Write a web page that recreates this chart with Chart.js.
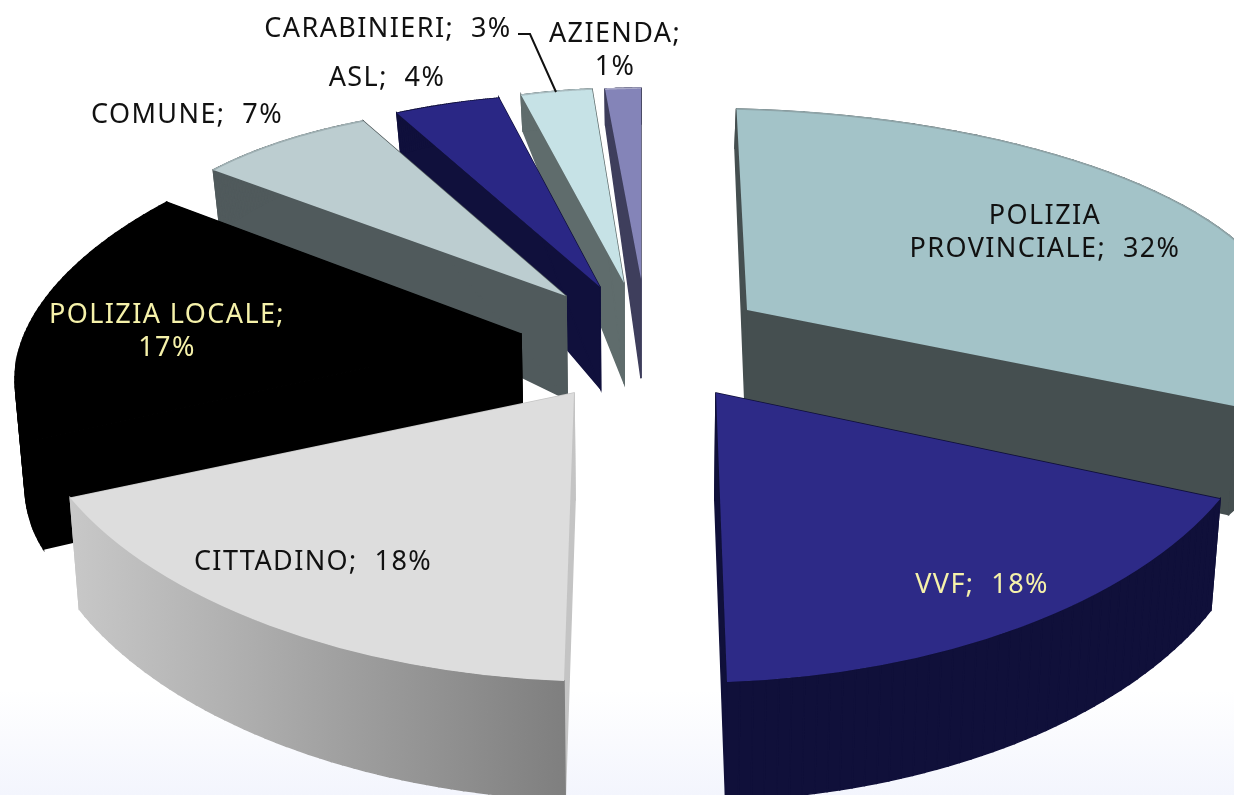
<!DOCTYPE html>
<html>
<head>
<meta charset="utf-8">
<title>Segnalazioni</title>
<script src="https://cdn.jsdelivr.net/npm/chart.js@4"></script>
<style>
    html, body { margin: 0; padding: 0; width: 1234px; height: 795px; overflow: hidden; }
    body { background: linear-gradient(to bottom, #ffffff 0, #ffffff 690px, #f3f5fd 795px); }
    canvas { display: block; }
</style>
</head>
<body>
<canvas id="pie" width="1234" height="795"></canvas>
<script>
const CATEGORIES = ['POLIZIA PROVINCIALE', 'VVF', 'CITTADINO', 'POLIZIA LOCALE', 'COMUNE', 'ASL', 'CARABINIERI', 'AZIENDA'];
const VALUES = [32, 18, 18, 17, 7, 4, 3, 1];
const LABEL_LINES = [
    ['POLIZIA', 'PROVINCIALE;  32%'],
    ['VVF;  18%'],
    ['CITTADINO;  18%'],
    ['POLIZIA LOCALE;', '17%'],
    ['COMUNE;  7%'],
    ['ASL;  4%'],
    ['CARABINIERI;  3%'],
    ['AZIENDA;', '1%'],
];

// ── Farben ─────────────────────────────────────────────────────────────────

const TOP_COLORS  = ['#a3c3c8', '#2d2a87', '#dddddd', '#000000', '#bccdd0', '#2a2785', '#c6e2e6', '#8484b8'];
const CUT_COLORS  = ['#454f50', '#10103a', '#c4c4c4', '#000000', '#505a5c', '#10103c', '#5f6c6c', '#3e3e5c'];
const WALL_COLORS = ['#454f50', '#10103a', ['#c8c8c8', '#7f7f7f'], '#000000', '#505a5c', '#10103c', '#5f6c6c', '#3e3e5c'];
const RIM_COLORS  = ['#8fa5a9', null, null, null, '#9fb0b3', null, '#a9bcc0', '#a9a9c8'];
const LABEL_COLORS = ['#111111', '#f6f2aa', '#111111', '#f6f2aa', '#111111', '#111111', '#111111', '#111111'];

// ── Perspektive: one affine view per slice, [a, b, c, d, e, f] ─────────────

const SLICE_VIEW = [
    [538, 10.5, 12.4, 201, 747, 310],
    [552, 11, -18.9, 289, 716, 393],
    [552, -10, 19.5, 288, 574, 393],
    [499, -84, -7, 234, 521, 334],
    [446, -13.8, 17.7, 190, 566, 296],
    [435, -7.3, 11.7, 192, 600, 287],
    [383, 7.9, -1.6, 194.4, 624, 283],
    [573, 0, -9.7, 191, 641, 279],
];
const DRAW_ORDER = [7, 6, 5, 4, 3, 0, 2, 1];

const LABEL_SPOTS = [
    [1045, 216], [982, 585], [313, 562], [167, 315],
    [187, 115], [387, 78], [388, 29], [615, 34],
];
const LINE_HEIGHT = 33;
const LEADER = [[518, 34], [530, 34], [556, 92]];

// slab gets thicker towards the viewer
function depthAt(y) {
    if (y <= 100) return 36;
    if (y <= 290) return 36 + (y - 100) * 0.353;
    return 103 + (y - 290) * 0.04;
}

function dropped(p) {
    return [p[0] - (p[0] - 640) * 0.016, p[1] + depthAt(p[1])];
}

function project(view, angle, r) {
    const ux = Math.cos(angle) * r;
    const uy = Math.sin(angle) * r;
    return [view[0] * ux + view[1] * uy + view[4], view[2] * ux + view[3] * uy + view[5]];
}

function tracePoly(ctx, pts) {
    ctx.beginPath();
    pts.forEach((p, i) => (i ? ctx.lineTo(p[0], p[1]) : ctx.moveTo(p[0], p[1])));
}

function fillPoly(ctx, pts, style) {
    tracePoly(ctx, pts);
    ctx.closePath();
    ctx.fillStyle = style;
    ctx.strokeStyle = style;
    ctx.lineWidth = 1.5;
    ctx.fill();
    ctx.stroke();
}

function rimOf(view, arc) {
    const rim = [];
    for (let k = 0; k <= 48; k++) {
        rim.push(project(view, arc.startAngle + (arc.endAngle - arc.startAngle) * k / 48, 1));
    }
    return rim;
}

function drawSlab(ctx, arc, i) {
    const view = SLICE_VIEW[i];
    const apex = project(view, 0, 0);
    const start = project(view, arc.startAngle, 1);
    const end = project(view, arc.endAngle, 1);

    fillPoly(ctx, [apex, start, dropped(start), dropped(apex)], CUT_COLORS[i]);
    fillPoly(ctx, [apex, end, dropped(end), dropped(apex)], CUT_COLORS[i]);

    const rim = rimOf(view, arc);
    let wall = WALL_COLORS[i];
    if (Array.isArray(wall)) {
        const xs = rim.map(p => p[0]);
        const g = ctx.createLinearGradient(Math.min(...xs), 0, Math.max(...xs), 0);
        g.addColorStop(0, wall[0]);
        g.addColorStop(1, wall[1]);
        wall = g;
    }
    for (let k = 0; k < rim.length - 1; k++) {
        fillPoly(ctx, [rim[k], rim[k + 1], dropped(rim[k + 1]), dropped(rim[k])], wall);
    }
}

const slabPlugin = {
    id: 'slabPie',
    beforeDatasetDraw(chart, args) {
        const ctx = chart.ctx;
        const arcs = args.meta.data;
        DRAW_ORDER.forEach(i => {
            const arc = arcs[i];
            const view = SLICE_VIEW[i];
            const R = arc.outerRadius;
            drawSlab(ctx, arc, i);
            ctx.save();
            ctx.transform(view[0] / R, view[2] / R, view[1] / R, view[3] / R, view[4], view[5]);
            ctx.translate(-arc.x, -arc.y);
            arc.draw(ctx);
            ctx.restore();
            if (RIM_COLORS[i]) {
                tracePoly(ctx, rimOf(view, arc));
                ctx.strokeStyle = RIM_COLORS[i];
                ctx.lineWidth = 1.6;
                ctx.stroke();
            }
        });
        return false;
    },
    afterDraw(chart) {
        const ctx = chart.ctx;
        ctx.save();
        tracePoly(ctx, LEADER);
        ctx.strokeStyle = '#111111';
        ctx.lineWidth = 2;
        ctx.stroke();

        ctx.font = '27px "Noto Sans"';
        ctx.letterSpacing = '1.4px';
        ctx.textAlign = 'center';
        ctx.textBaseline = 'middle';
        LABEL_LINES.forEach((lines, i) => {
            ctx.fillStyle = LABEL_COLORS[i];
            lines.forEach((line, k) => {
                ctx.fillText(line, LABEL_SPOTS[i][0], LABEL_SPOTS[i][1] + k * LINE_HEIGHT);
            });
        });
        ctx.restore();
    },
};

new Chart(document.getElementById('pie'), {
    type: 'pie',
    data: {
        labels: CATEGORIES,
        datasets: [{
            data: VALUES,
            backgroundColor: TOP_COLORS,
            borderWidth: 0,
        }],
    },
    options: {
        responsive: false,
        animation: false,
        plugins: {
            legend: { display: false },
            tooltip: { enabled: false },
        },
    },
    plugins: [slabPlugin],
});
</script>
</body>
</html>
